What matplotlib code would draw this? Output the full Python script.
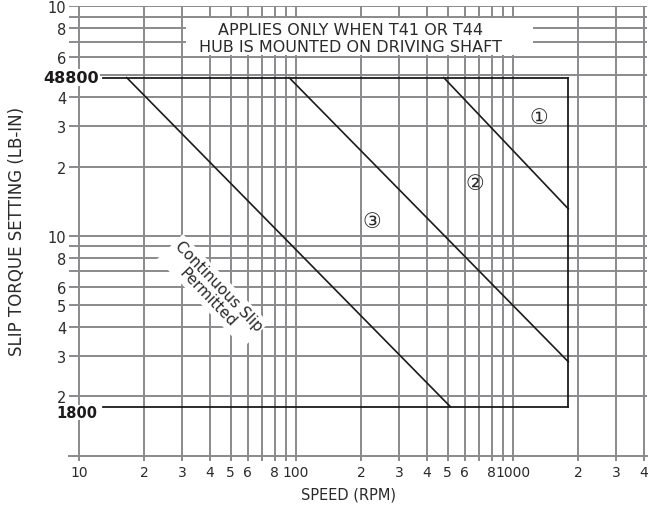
import matplotlib
matplotlib.use("Agg")
import matplotlib.pyplot as plt
from matplotlib.patches import Rectangle
from matplotlib.transforms import offset_copy

# ---------------- data ----------------
x_grid = [10, 20, 30, 40, 50, 60, 70, 80, 90,
          100, 200, 300, 400, 500, 600, 700, 800, 900,
          1000, 2000, 3000, 4000]
x_labels = ["10", "2", "3", "4", "5", "6", "", "8", "",
            "100", "2", "3", "4", "5", "6", "", "8", "",
            "1000", "2", "3", "4"]

y_grid = [2000, 3000, 4000, 5000, 6000, 7000, 8000, 9000,
          10000, 20000, 30000, 40000, 50000, 60000, 70000, 80000, 90000, 100000]
y_labels = ["2", "3", "4", "5", "6", "", "8", "",
            "10", "2", "3", "4", "", "6", "", "8", "", "10"]

torque_max = 48800
torque_min = 1800
speed_max = 1800
speed_lead = 12.9          # where the leader lines of the torque labels start

# diagonal limit lines (speed, torque)
line1_speed = [480, 1800]
line1_torque = [48800, 13100]
line2_speed = [93, 1800]
line2_torque = [48800, 2830]
line3_speed = [16.6, 516]
line3_torque = [48800, 1800]

zone_labels = ["\u2460", "\u2461", "\u2462"]
zone_speed = [1316, 665, 224]
zone_torque = [32900, 17000, 11600]

GRAY = "#8a8a8c"
BLACK = "#1c1a1a"
TXT = "#2a2a2a"

plt.rcParams['font.family'] = ['DejaVu Sans', 'Noto Sans CJK JP']

fig = plt.figure(figsize=(6.65, 5.06), dpi=100)
ax = fig.add_axes([69/665, 1-457/506, 578/665, 450/506])

ax.set_xscale("log")
ax.set_yscale("log")
ax.set_xlim(9.0, 4150)
ax.set_ylim(1100, 100000)

ax.set_xticks(x_grid)
ax.set_xticklabels(x_labels)
ax.set_yticks(y_grid)
ax.set_yticklabels(y_labels)
ax.minorticks_off()

ax.set_axisbelow(True)
ax.grid(True, which="major", color=GRAY, linewidth=1.4)

for s in ["top", "right", "left"]:
    ax.spines[s].set_visible(False)
ax.spines["bottom"].set_color(GRAY)
ax.spines["bottom"].set_linewidth(1.4)

ax.tick_params(axis="x", length=3.5, width=1.4, color=GRAY, pad=3,
               labelsize=10, labelcolor=TXT)
ax.tick_params(axis="y", length=0, pad=2, labelsize=10.5, labelcolor=TXT)

# box of operating range
ax.plot([speed_lead, speed_max], [torque_max, torque_max], color=BLACK, lw=1.3, zorder=3)
ax.plot([speed_lead, speed_max], [torque_min, torque_min], color=BLACK, lw=1.3, zorder=3)
ax.plot([speed_max, speed_max], [torque_min, torque_max], color=BLACK, lw=1.3, zorder=3)

for sp, tq in [(line1_speed, line1_torque), (line2_speed, line2_torque),
               (line3_speed, line3_torque)]:
    ax.plot(sp, tq, color=BLACK, lw=1.2, zorder=3)

# bold torque limit labels
ax.text(12.4, torque_max, str(torque_max), ha="right", va="center", fontsize=11.5,
        fontweight="bold", color=BLACK, zorder=5,
        bbox=dict(boxstyle="square,pad=0.05", fc="white", ec="none"))
ax.text(12.1, torque_min, str(torque_min), ha="right", va="center", fontsize=10.5,
        fontweight="bold", color=BLACK, zorder=5,
        transform=offset_copy(ax.transData, fig=fig, x=0, y=-6, units="dots"),
        bbox=dict(boxstyle="square,pad=0.0", fc="white", ec="none"))

for lab, sx, ty in zip(zone_labels, zone_speed, zone_torque):
    ax.text(sx, ty, lab, ha="center", va="center", fontsize=15, color=TXT, zorder=5)

# note box
ax.add_patch(Rectangle((31, 61500), 1240 - 31, 88500 - 61500, fc="white", ec="none", zorder=2))
ax.text(178, 72500, "APPLIES ONLY WHEN T41 OR T44\nHUB IS MOUNTED ON DRIVING SHAFT",
        ha="center", va="center", fontsize=11.5, color=TXT, linespacing=1.2, zorder=5)

ax.text(41.5, 5750, "Continuous Slip\nPermitted", ha="center", va="center",
        rotation=-46, rotation_mode="anchor", fontsize=11, color=TXT,
        linespacing=1.1, zorder=5,
        bbox=dict(boxstyle="square,pad=0.15", fc="white", ec="none"))

ax.set_xlabel("SPEED (RPM)", fontsize=10.5, color=TXT)
ax.set_ylabel("SLIP TORQUE SETTING (LB-IN)", fontsize=12, color=TXT)
ax.xaxis.set_label_coords(0.484, -0.068)
ax.yaxis.set_label_coords(-0.074, 0.502)

fig.savefig("out.png", dpi=100)
